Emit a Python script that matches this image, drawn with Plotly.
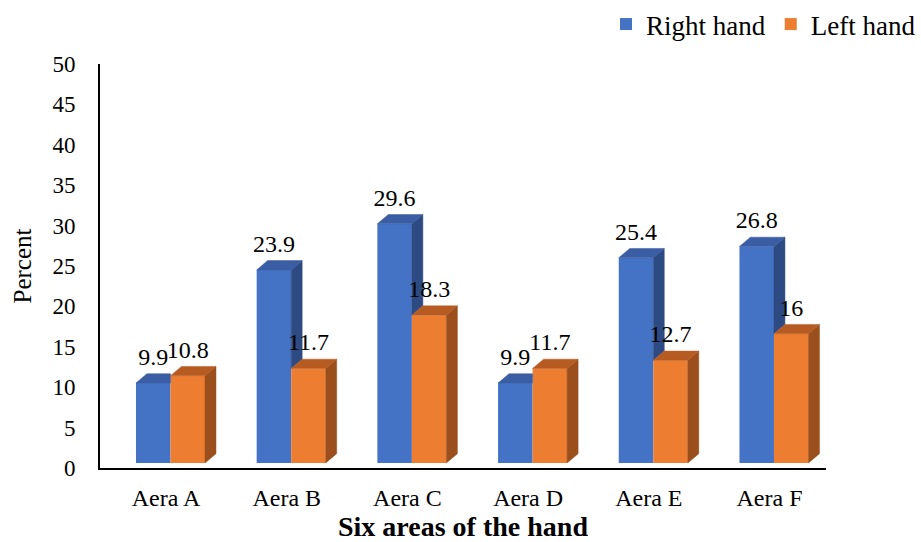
import plotly.graph_objects as go

categories = ["Aera A", "Aera B", "Aera C", "Aera D", "Aera E", "Aera F"]
right_hand = [9.9, 23.9, 29.6, 9.9, 25.4, 26.8]
left_hand = [10.8, 11.7, 18.3, 11.7, 12.7, 16]
right_labels = ["9.9", "23.9", "29.6", "9.9", "25.4", "26.8"]
left_labels = ["10.8", "11.7", "18.3", "11.7", "12.7", "16"]
y_ticks = [0, 5, 10, 15, 20, 25, 30, 35, 40, 45, 50]

# styling / pseudo-3D geometry
FONT = "Liberation Serif, Times New Roman, serif"
BW = 0.286           # bar width (x units)
OFF_R = -0.249       # blue offset
OFF_L = OFF_R + BW   # orange offset
DX = 0.091           # depth in x units
DY = 1.15            # depth in y units
BASE = 0.62          # floor lift
LABEL_PAD = 0.35     # extra gap above bar tops for value labels

BLUE, BLUE_TOP, BLUE_SIDE = "#4472C4", "#3A5DA3", "#2E4A82"
ORNG, ORNG_TOP, ORNG_SIDE = "#ED7D31", "#B65B22", "#9A4F1D"

xs = list(range(len(categories)))


def polys(list_of_pts):
    px, py = [], []
    for pts in list_of_pts:
        for (a, b) in pts:
            px.append(a)
            py.append(b)
        px.append(pts[0][0]); py.append(pts[0][1])
        px.append(None); py.append(None)
    return px, py


fig = go.Figure()

# front faces (bars)
fig.add_trace(go.Bar(x=xs, y=right_hand, base=BASE, width=BW, offset=OFF_R,
                     marker=dict(color=BLUE, line=dict(width=0)), name="Right hand"))
fig.add_trace(go.Bar(x=xs, y=left_hand, base=BASE, width=BW, offset=OFF_L,
                     marker=dict(color=ORNG, line=dict(width=0)), name="Left hand"))

b_side, b_top, o_side, o_top = [], [], [], []
for i, (r, l) in enumerate(zip(right_hand, left_hand)):
    x0 = i + OFF_R
    x1 = x0 + BW
    x2 = x1 + BW
    bt = BASE + r
    ot = BASE + l
    if bt > ot:
        b_side.append([(x1, ot), (x1, bt), (x1 + DX, bt + DY), (x1 + DX, ot + DY)])
        b_top.append([(x0, bt), (x1, bt), (x1 + DX, bt + DY), (x0 + DX, bt + DY)])
    else:
        b_top.append([(x0, bt), (x1, bt), (x1, bt + DY), (x0 + DX, bt + DY)])
    o_side.append([(x2, BASE), (x2, ot), (x2 + DX, ot + DY), (x2 + DX, BASE + DY)])
    o_top.append([(x1, ot), (x2, ot), (x2 + DX, ot + DY), (x1 + DX, ot + DY)])

for pts, col in [(b_side, BLUE_SIDE), (b_top, BLUE_TOP), (o_side, ORNG_SIDE), (o_top, ORNG_TOP)]:
    px, py = polys(pts)
    fig.add_trace(go.Scatter(x=px, y=py, mode="lines", fill="toself", fillcolor=col,
                             line=dict(width=0.5, color=col), hoverinfo="skip", showlegend=False))

# data labels
fig.add_trace(go.Scatter(x=[i + OFF_R + BW / 2 for i in xs],
                         y=[BASE + v + DY + LABEL_PAD for v in right_hand],
                         mode="text", text=right_labels, textposition="top center",
                         textfont=dict(family=FONT, size=24, color="black"), showlegend=False))
fig.add_trace(go.Scatter(x=[i + OFF_L + BW / 2 for i in xs],
                         y=[BASE + v + DY + LABEL_PAD for v in left_hand],
                         mode="text", text=left_labels, textposition="top center",
                         textfont=dict(family=FONT, size=24, color="black"), showlegend=False))

fig.update_layout(
    width=921, height=542,
    margin=dict(l=100, r=95, t=64, b=74, autoexpand=False),
    plot_bgcolor="white", paper_bgcolor="white",
    barmode="overlay",
    font=dict(family=FONT, color="black", size=23),
    legend=dict(orientation="h", x=1, xref="container", xanchor="right",
                y=1, yref="container", yanchor="top",
                font=dict(family=FONT, size=27, color="black"),
                itemwidth=30, traceorder="normal"),
    xaxis=dict(range=[-0.547, 5.468], tickvals=xs, ticktext=categories,
               showline=True, linecolor="black", linewidth=2, showgrid=False,
               zeroline=False, ticks="", ticklabelstandoff=7, automargin=False,
               tickfont=dict(family=FONT, size=24, color="black"),
               title=dict(text="Six areas of the hand", standoff=4,
                          font=dict(family=FONT, size=28, color="black", weight="bold"))),
    yaxis=dict(range=[0, 50], tickvals=y_ticks,
               showline=True, linecolor="black", linewidth=2, showgrid=False,
               zeroline=False, ticks="", ticklabelstandoff=18, automargin=False,
               tickfont=dict(family=FONT, size=23, color="black"),
               title=dict(text="Percent", standoff=14,
                          font=dict(family=FONT, size=25, color="black"))),
)

fig.write_html("out.html")
